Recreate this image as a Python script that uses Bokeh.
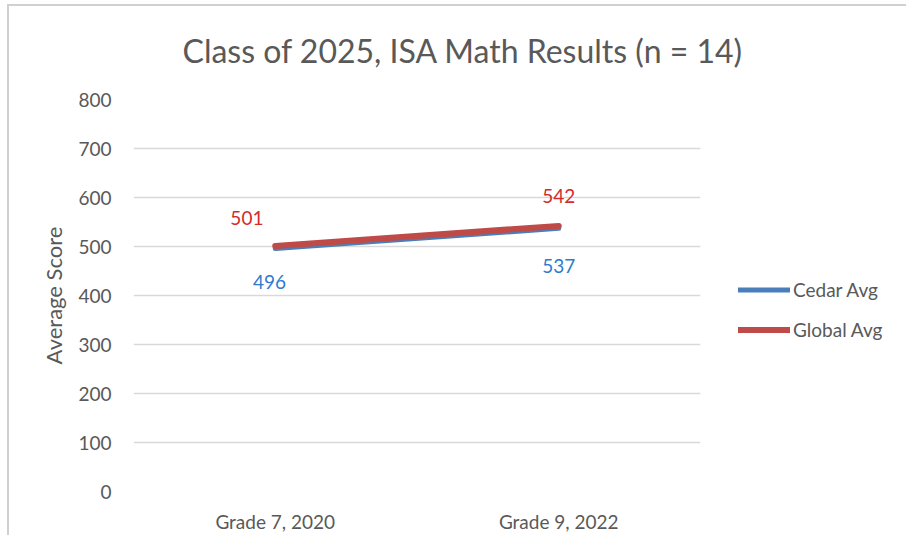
from bokeh.plotting import figure
from bokeh.models import (ColumnDataSource, FactorRange, Range1d, Legend, LegendItem,
                          FixedTicker, Title)
from bokeh.core.properties import value
from bokeh.embed import file_html
from bokeh.resources import INLINE

categories = ["Grade 7, 2020", "Grade 9, 2022"]
cedar_avg = [496, 537]
global_avg = [501, 542]
y_ticks = [0, 100, 200, 300, 400, 500, 600, 700, 800]
title_text = "Class of 2025, ISA Math Results (n = 14)"
y_label = "Average Score"

FONT = "Lato"
GRAY = "#595959"

p = figure(x_range=FactorRange(*categories, range_padding=0), y_range=Range1d(0, 800),
           frame_width=567, frame_height=392, output_backend="svg", toolbar_location=None,
           min_border_left=133, min_border_top=99, min_border_right=190, min_border_bottom=42,
           title=None)
p.x_range.range_padding = 0

title = Title(text=title_text, align="left", offset=49, vertical_align="top", standoff=56,
              text_font=FONT, text_font_size="32px", text_color=GRAY, text_font_style="normal")
p.add_layout(title, "above")

src = ColumnDataSource(dict(x=categories, cedar=cedar_avg, glob=global_avg))

r_cedar = p.line("x", "cedar", source=src, line_color="#4A7EBB", line_width=5, line_cap="round")
r_glob = p.line("x", "glob", source=src, line_color="#BE4B48", line_width=6, line_cap="round")

p.text(x=[(categories[0], -0.1), (categories[1], 0)], y=global_avg,
       text=[str(v) for v in global_avg],
       text_font=value(FONT), text_font_size="19px", text_color="#D42B2B",
       text_align="center", text_baseline="middle", y_offset=[-28, -30])
p.text(x=[(categories[0], -0.02), (categories[1], 0)], y=cedar_avg,
       text=[str(v) for v in cedar_avg],
       text_font=value(FONT), text_font_size="19px", text_color="#2E7BCF",
       text_align="center", text_baseline="middle", y_offset=[34, 38])

p.xgrid.visible = False
p.ygrid.grid_line_color = "#d9d9d9"
p.ygrid.grid_line_width = 1.5
p.yaxis.ticker = FixedTicker(ticks=y_ticks)
for ax in (p.xaxis[0], p.yaxis[0]):
    ax.axis_line_color = None
    ax.major_tick_line_color = None
    ax.minor_tick_line_color = None
    ax.major_tick_out = 0
    ax.minor_tick_out = 0
    ax.major_label_text_font = FONT
    ax.major_label_text_font_size = "19px"
    ax.major_label_text_color = GRAY
p.yaxis.major_label_standoff = 22
p.xaxis.major_label_standoff = 18
p.yaxis.axis_label = y_label
p.yaxis.axis_label_text_font = FONT
p.yaxis.axis_label_text_font_size = "22px"
p.yaxis.axis_label_text_font_style = "normal"
p.yaxis.axis_label_text_color = GRAY
p.yaxis.axis_label_standoff = 8

p.outline_line_color = None
p.border_fill_color = None
p.styles = {"background": "linear-gradient(#d0d0d0,#d0d0d0) 8px 4px / calc(100% - 8px) 2px no-repeat, "
                          "linear-gradient(#d0d0d0,#d0d0d0) 7px 4px / 2px calc(100% - 4px) no-repeat, #ffffff"}

legend = Legend(items=[LegendItem(label="Cedar Avg", renderers=[r_cedar]),
                       LegendItem(label="Global Avg", renderers=[r_glob])],
                location=(38, 150), glyph_width=52, glyph_height=23, spacing=17,
                label_standoff=3, padding=0, margin=0, border_line_color=None,
                background_fill_alpha=0, label_text_font=FONT, label_text_font_size="19px",
                label_text_color=GRAY)
p.add_layout(legend, "right")

open("out.html", "w").write(file_html(p, INLINE))
